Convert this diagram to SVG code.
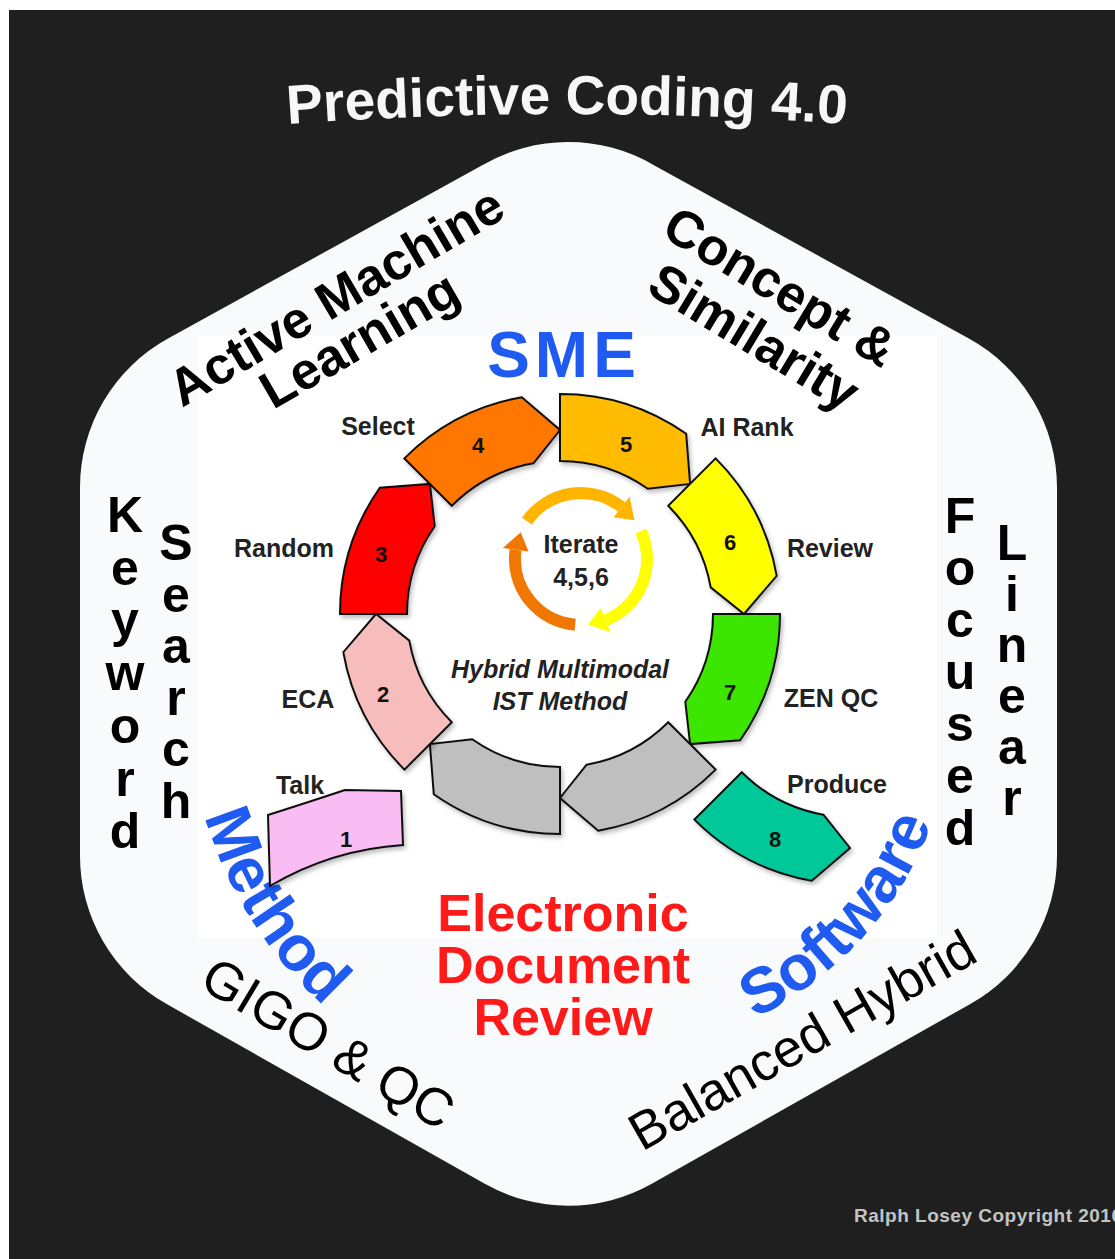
<svg xmlns="http://www.w3.org/2000/svg" width="1115" height="1259" viewBox="0 0 1115 1259">
  <defs>
    <style>
      text { font-family: "Liberation Sans", Arial, Helvetica, sans-serif; }
      .seg { stroke: #111; stroke-width: 2; stroke-linejoin: miter; filter: url(#shadow); }
      .num { font-size: 22px; font-weight: bold; fill: #111; text-anchor: middle; }
      .lbl { font-size: 25px; font-weight: bold; fill: #222; text-anchor: middle; }
      .head { font-size: 52px; font-weight: bold; fill: #000; }
      .plain { font-size: 53px; font-weight: normal; fill: #000; text-anchor: middle; }
      .col { font-size: 50px; font-weight: bold; fill: #000; text-anchor: middle; }
      .blue { font-size: 64px; font-weight: bold; fill: #1f5bf0; }
      .red { font-size: 52px; font-weight: bold; fill: #ff1a1a; text-anchor: middle; }
      .center { font-size: 25px; font-weight: bold; fill: #222; text-anchor: middle; }
      .loop { fill: none; stroke-width: 12; }
    </style>
    <filter id="shadow" x="-20%" y="-20%" width="150%" height="150%">
      <feDropShadow dx="2" dy="3" stdDeviation="2" flood-color="#000" flood-opacity="0.25"/>
    </filter>
    <path id="titleArc" d="M 288,124 Q 567,104 846,124"/>
    <path id="methodArc" d="M 188.3,715.8 A 412 412 0 0 0 407.9,1064.4"/>
    <path id="softwareArc" d="M 708.2,1037 A 354 354 0 0 0 946,774.8"/>
  </defs>

  <!-- page background -->
  <rect x="0" y="0" width="1115" height="1259" fill="#ffffff"/>
  <rect x="9" y="10" width="1106" height="1249" fill="#1f1f1f"/>

  <!-- rounded hexagon panel -->
  <g id="hexagon">
    <path d="M 482.2,165.3 A 170 170 0 0 1 653.9,165.2 L 968.9,338.6 A 170 170 0 0 1 1057,487.5 L 1057,855 A 170 170 0 0 1 969.9,1004.2 L 651.8,1183.7 A 170 170 0 0 1 484.3,1183.6 L 167.1,1004.3 A 170 170 0 0 1 80,855 L 80,487.5 A 170 170 0 0 1 168,338.5 Z" fill="#f9fafc"/>
    <rect x="198" y="335" width="739" height="603" fill="#ffffff"/>
  </g>

  <!-- title -->
  <g id="title">
    <text font-size="55" font-weight="bold" fill="#f7f7f7" text-anchor="middle"><textPath href="#titleArc" startOffset="50%">Predictive Coding 4.0</textPath></text>
  </g>

  <!-- outer headings around the hexagon -->
  <g id="heading-aml">
    <text class="head" x="182" y="408" transform="rotate(-30.5 182 408)">Active Machine</text>
    <text class="head" x="273" y="410" transform="rotate(-30 273 410)">Learning</text>
  </g>
  <g id="heading-concept">
    <text class="head" text-anchor="middle" x="771" y="302" transform="rotate(31 771 302)">Concept &amp;</text>
    <text class="head" text-anchor="middle" x="745" y="352" transform="rotate(31 745 352)">Similarity</text>
  </g>
  <g id="heading-keyword">
    <text class="col" x="125" y="532">K<tspan x="125" y="584.7">e</tspan><tspan x="125" y="637.4">y</tspan><tspan x="125" y="690.1">w</tspan><tspan x="125" y="742.8">o</tspan><tspan x="125" y="795.5">r</tspan><tspan x="125" y="848.2">d</tspan></text>
    <text class="col" x="176" y="560">S<tspan x="176" y="611.6">e</tspan><tspan x="176" y="663.2">a</tspan><tspan x="176" y="714.8">r</tspan><tspan x="176" y="766.4">c</tspan><tspan x="176" y="818">h</tspan></text>
  </g>
  <g id="heading-focused">
    <text class="col" x="960" y="533">F<tspan x="960" y="585">o</tspan><tspan x="960" y="637">c</tspan><tspan x="960" y="689">u</tspan><tspan x="960" y="741">s</tspan><tspan x="960" y="793">e</tspan><tspan x="960" y="845">d</tspan></text>
    <text class="col" x="1012" y="560">L<tspan x="1012" y="611">i</tspan><tspan x="1012" y="662">n</tspan><tspan x="1012" y="713">e</tspan><tspan x="1012" y="764">a</tspan><tspan x="1012" y="815">r</tspan></text>
  </g>
  <g id="heading-gigo">
    <text class="plain" x="319" y="1059" transform="rotate(30.8 319 1059)">GIGO &amp; QC</text>
  </g>
  <g id="heading-hybrid">
    <text class="plain" font-size="56" x="811" y="1056" transform="rotate(-29.6 811 1056)">Balanced Hybrid</text>
  </g>

  <!-- blue pillars -->
  <g id="pillar-sme">
    <text class="blue" text-anchor="middle" x="564" y="377" letter-spacing="5">SME</text>
  </g>
  <g id="pillar-method">
    <text class="blue" text-anchor="middle"><textPath href="#methodArc" startOffset="50%">Method</textPath></text>
  </g>
  <g id="pillar-software">
    <text class="blue" text-anchor="middle"><textPath href="#softwareArc" startOffset="50%">Software</textPath></text>
  </g>

  <!-- centre caption -->
  <g id="edr">
    <text class="red" x="563" y="931">Electronic</text>
    <text class="red" x="563" y="983">Document</text>
    <text class="red" x="563" y="1035">Review</text>
  </g>

  <!-- eight-step cycle -->
  <g id="step-3">
    <path class="seg" fill="#ff0000" d="M 340,614 A 220 220 0 0 1 379.8,487.8 L 429.9,483.9 L 434.7,526.2 A 153 153 0 0 0 407,614 Z"/>
    <text class="num" x="381" y="562">3</text>
    <text class="lbl" x="284" y="557">Random</text>
  </g>
  <g id="step-4">
    <path class="seg" fill="#ff7700" d="M 404.4,458.4 A 220 220 0 0 1 521.8,397.3 L 560,430 L 533.4,463.3 A 153 153 0 0 0 451.8,505.8 Z"/>
    <text class="num" x="478" y="453">4</text>
    <text class="lbl" x="378" y="435">Select</text>
  </g>
  <g id="step-5">
    <path class="seg" fill="#ffbb00" d="M 560,394 A 220 220 0 0 1 686.2,433.8 L 690.1,483.9 L 647.8,488.7 A 153 153 0 0 0 560,461 Z"/>
    <text class="num" x="626" y="452">5</text>
    <text class="lbl" x="747" y="436">AI Rank</text>
  </g>
  <g id="step-6">
    <path class="seg" fill="#ffff00" d="M 715.6,458.4 A 220 220 0 0 1 776.7,575.8 L 744,614 L 710.7,587.4 A 153 153 0 0 0 668.2,505.8 Z"/>
    <text class="num" x="730" y="550">6</text>
    <text class="lbl" x="830" y="557">Review</text>
  </g>
  <g id="step-7">
    <path class="seg" fill="#3ee600" d="M 780,614 A 220 220 0 0 1 740.2,740.2 L 690.1,744.1 L 685.3,701.8 A 153 153 0 0 0 713,614 Z"/>
    <text class="num" x="730" y="700">7</text>
    <text class="lbl" x="831" y="707">ZEN QC</text>
  </g>
  <g id="step-gray-a">
    <path class="seg" fill="#bfbfbf" d="M 715.6,769.6 A 220 220 0 0 1 598.2,830.7 L 560,798 L 586.6,764.7 A 153 153 0 0 0 668.2,722.2 Z"/>
  </g>
  <g id="step-gray-b">
    <path class="seg" fill="#bfbfbf" d="M 560,834 A 220 220 0 0 1 433.8,794.2 L 429.9,744.1 L 472.2,739.3 A 153 153 0 0 0 560,767 Z"/>
  </g>
  <g id="step-2">
    <path class="seg" fill="#f7bcbc" d="M 404.4,769.6 A 220 220 0 0 1 343.3,652.2 L 376,614 L 409.3,640.6 A 153 153 0 0 0 451.8,722.2 Z"/>
    <text class="num" x="383" y="702">2</text>
    <text class="lbl" x="308" y="708">ECA</text>
  </g>
  <g id="step-1">
    <path class="seg" fill="#f9bdf3" d="M 268,815 Q 312,801 345,790 L 401,791 L 403,845 A 300 300 0 0 0 270,886 Z"/>
    <text class="num" x="346" y="847">1</text>
    <text class="lbl" x="300" y="794">Talk</text>
  </g>
  <g id="step-8">
    <path class="seg" fill="#00c898" d="M 694.4,819.6 A 220 220 0 0 0 811.8,880.7 L 850,848 L 823.4,814.7 A 153 153 0 0 1 741.8,772.2 Z"/>
    <text class="num" x="775" y="847">8</text>
    <text class="lbl" x="837" y="793">Produce</text>
  </g>

  <!-- iterate loop inside the ring -->
  <g id="iterate">
    <path class="loop" stroke="#ffb400" d="M 526.9,521.1 A 66 66 0 0 1 621.6,507"/>
    <polygon fill="#ffb400" points="629.6,496.7 613.6,517.2 634.4,520.2"/>
    <path class="loop" stroke="#ffff00" d="M 640.8,531.1 A 66 66 0 0 1 605.7,620.2"/>
    <polygon fill="#ffff00" points="610.6,632.2 600.9,608.1 587.9,624.6"/>
    <path class="loop" stroke="#f07800" d="M 575.2,624.7 A 66 66 0 0 1 515.6,549.8"/>
    <polygon fill="#f07800" points="502.8,548 528.5,551.6 520.7,532.2"/>
    <text class="center" x="581" y="553">Iterate</text>
    <text class="center" x="581" y="586">4,5,6</text>
  </g>

  <g id="method-caption">
    <text class="center" font-style="italic" x="560" y="678">Hybrid Multimodal</text>
    <text class="center" font-style="italic" x="560" y="710">IST Method</text>
  </g>

  <g id="copyright">
    <text x="854" y="1222" font-size="19" font-weight="bold" fill="#c4c4c4" letter-spacing="0.5">Ralph Losey Copyright 2016</text>
  </g>
</svg>
